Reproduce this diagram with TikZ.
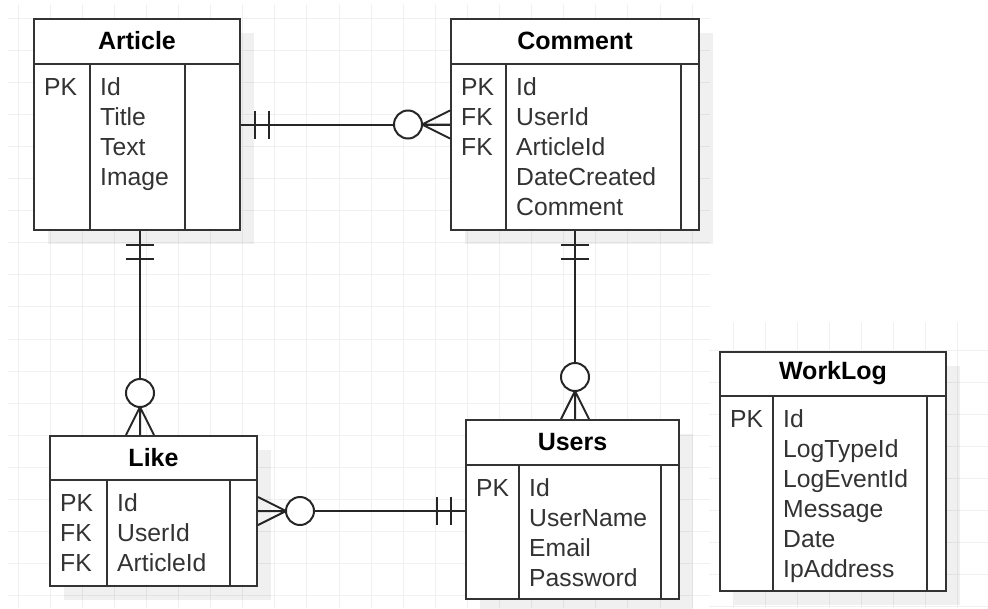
\documentclass[tikz,border=0pt]{standalone}
\usepackage{fontspec}
\setmainfont{Liberation Sans}
\usetikzlibrary{shadows}

\newcommand{\fieldfont}{\fontsize{24.7}{30}\selectfont}
\newcommand{\titlefont}{\fontsize{25}{30}\selectfont\bfseries}

\tikzset{
  entity/.style={draw=black!80, line width=2pt, fill=white, anchor=north west, inner sep=0pt,
    drop shadow={shadow xshift=14pt, shadow yshift=-14pt, opacity=.06, fill=black}},
  sep/.style={draw=black!80, line width=2pt},
  title/.style={font=\titlefont, inner sep=0pt},
  fields/.style={anchor=north west, inner sep=0pt, align=left, font=\fieldfont, text=black!80},
  rel/.style={draw=black!85, line width=2pt},
  gridline/.style={draw=black!6, line width=1pt},
  erone/.pic={\draw[rel] (#1*14,-14) -- (#1*14,14) (#1*28,-14) -- (#1*28,14);},
  ermany/.pic={\draw[rel] (0,-14) -- (#1*28,0) -- (0,14) (0,0) -- (#1*28,0);
               \draw[rel, fill=white] (#1*42,0) circle (14);},
  src mark/.style={pos=0, sloped, allow upside down},
  dst mark/.style={pos=1, sloped, allow upside down},
}

\begin{document}
\begin{tikzpicture}[x=1pt, y=-1pt]
\useasboundingbox (0,0) rectangle (988,608);

% background grid
\draw[gridline, shift={(18,18)}, step=32.1pt] (-10,-14) grid (692,590);
\draw[gridline, shift={(733,350)}, step=32.1pt] (-24,-28) grid (255,258);

% Article
\node[entity, minimum width=206pt, minimum height=211pt] (article) at (33,18) {};
\draw[sep] ([yshift=-46pt]article.north west) -- ([yshift=-46pt]article.north east);
\draw[sep] ([xshift=57pt,yshift=-46pt]article.north west) -- ([xshift=57pt]article.south west);
\draw[sep] ([xshift=152pt,yshift=-46pt]article.north west) -- ([xshift=152pt]article.south west);
\node[title] (article-name) at ([yshift=-23pt]article.north) {Article};
\node[fields] (article-keys) at ([xshift=11pt,yshift=-56pt]article.north west) {\strut PK};
\node[fields] (article-cols) at ([xshift=67pt,yshift=-56pt]article.north west) {\strut Id\\Title\\Text\\Image};

% Comment
\node[entity, minimum width=248pt, minimum height=211pt] (comment) at (450,18) {};
\draw[sep] ([yshift=-46pt]comment.north west) -- ([yshift=-46pt]comment.north east);
\draw[sep] ([xshift=56pt,yshift=-46pt]comment.north west) -- ([xshift=56pt]comment.south west);
\draw[sep] ([xshift=231pt,yshift=-46pt]comment.north west) -- ([xshift=231pt]comment.south west);
\node[title] (comment-name) at ([yshift=-23pt]comment.north) {Comment};
\node[fields] (comment-keys) at ([xshift=11pt,yshift=-56pt]comment.north west) {\strut PK\\FK\\FK};
\node[fields] (comment-cols) at ([xshift=66pt,yshift=-56pt]comment.north west) {\strut Id\\UserId\\ArticleId\\DateCreated\\Comment};

% Like
\node[entity, minimum width=207pt, minimum height=150pt] (like) at (49,435) {};
\draw[sep] ([yshift=-45pt]like.north west) -- ([yshift=-45pt]like.north east);
\draw[sep] ([xshift=58pt,yshift=-45pt]like.north west) -- ([xshift=58pt]like.south west);
\draw[sep] ([xshift=181pt,yshift=-45pt]like.north west) -- ([xshift=181pt]like.south west);
\node[title] (like-name) at ([yshift=-22.5pt]like.north) {Like};
\node[fields] (like-keys) at ([xshift=11pt,yshift=-55pt]like.north west) {\strut PK\\FK\\FK};
\node[fields] (like-cols) at ([xshift=68pt,yshift=-55pt]like.north west) {\strut Id\\UserId\\ArticleId};

% Users
\node[entity, minimum width=213pt, minimum height=179pt] (users) at (465,419) {};
\draw[sep] ([yshift=-46pt]users.north west) -- ([yshift=-46pt]users.north east);
\draw[sep] ([xshift=54pt,yshift=-46pt]users.north west) -- ([xshift=54pt]users.south west);
\draw[sep] ([xshift=196pt,yshift=-46pt]users.north west) -- ([xshift=196pt]users.south west);
\node[title] (users-name) at ([yshift=-23pt]users.north) {Users};
\node[fields] (users-keys) at ([xshift=11pt,yshift=-56pt]users.north west) {\strut PK};
\node[fields] (users-cols) at ([xshift=64pt,yshift=-56pt]users.north west) {\strut Id\\UserName\\Email\\Password};

% WorkLog
\node[entity, minimum width=226pt, minimum height=239pt] (worklog) at (719,351) {};
\draw[sep] ([yshift=-45pt]worklog.north west) -- ([yshift=-45pt]worklog.north east);
\draw[sep] ([xshift=54pt,yshift=-45pt]worklog.north west) -- ([xshift=54pt]worklog.south west);
\draw[sep] ([xshift=208pt,yshift=-45pt]worklog.north west) -- ([xshift=208pt]worklog.south west);
\node[title] (worklog-name) at ([yshift=-22.5pt]worklog.north) {WorkLog};
\node[fields] (worklog-keys) at ([xshift=11pt,yshift=-55pt]worklog.north west) {\strut PK};
\node[fields] (worklog-cols) at ([xshift=64pt,yshift=-55pt]worklog.north west) {\strut Id\\LogTypeId\\LogEventId\\Message\\Date\\IpAddress};

% relations
\draw[rel] (article.east) -- pic[src mark]{erone=1} pic[dst mark]{ermany=-1} (comment.west);
\draw[rel] ([xshift=3pt]article.south) -- pic[src mark]{erone=1} pic[dst mark]{ermany=-1} ([xshift=3pt]article.south |- like.north);
\draw[rel] (comment.south) -- pic[src mark]{erone=1} pic[dst mark]{ermany=-1} (comment.south |- users.north);
\draw[rel] (like.east) -- pic[src mark]{ermany=1} pic[dst mark]{erone=-1} (like.east -| users.west);
\end{tikzpicture}
\end{document}
